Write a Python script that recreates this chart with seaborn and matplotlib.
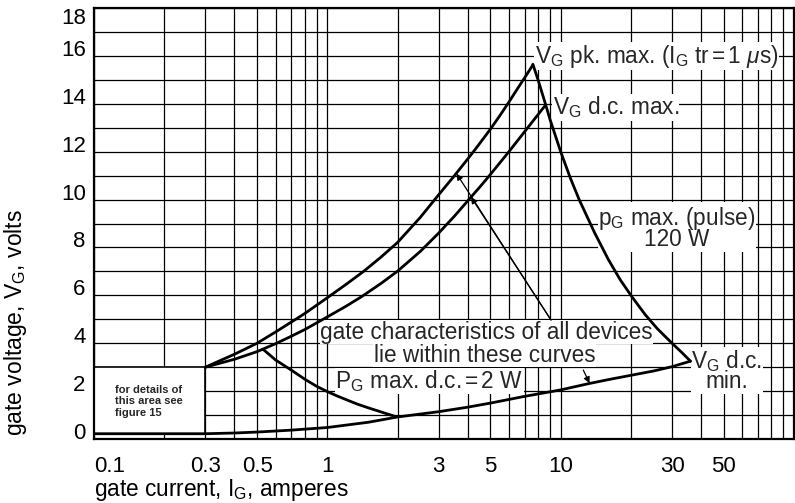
import numpy as np
import pandas as pd
import matplotlib
matplotlib.use("Agg")
import matplotlib.pyplot as plt
import seaborn as sns
from matplotlib.ticker import FixedLocator, LogLocator, MultipleLocator, NullFormatter
from matplotlib.patches import Rectangle

# ---------------- data ----------------
I_pk = [0.3, 0.4, 0.5, 0.6, 0.7, 0.8, 1.0, 1.2, 1.43, 1.7, 2.0, 2.5, 3.0, 3.5,
        4.0, 4.33, 5.0, 5.5, 6.0, 6.5, 7.0, 7.6]
V_pk = [3.0, 3.54, 4.0, 4.47, 4.88, 5.24, 5.9, 6.45, 7.0, 7.6, 8.21, 9.25, 10.2, 10.99,
        11.7, 12.13, 12.94, 13.52, 14.07, 14.6, 15.08, 15.62]

I_dcmax = [0.3, 0.4, 0.5, 0.6, 0.7, 0.8, 1.0, 1.2, 1.41, 1.7, 2.0, 2.5, 3.0, 3.5,
           4.0, 4.5, 5.0, 6.0, 7.0, 8.0, 8.6]
V_dcmax = [3.0, 3.33, 3.65, 3.98, 4.29, 4.57, 5.1, 5.54, 5.96, 6.5, 7.01, 7.83, 8.6, 9.3,
           9.95, 10.52, 11.05, 12.0, 12.83, 13.55, 13.94]

I_pulse = [7.6, 8.0, 8.6, 9.0, 10, 11, 12, 14, 16, 18, 20, 23, 26, 30, 33, 36]
V_pulse = [15.65, 15.0, 14.0, 13.35, 12.0, 10.9, 10.0, 8.6, 7.5, 6.65, 6.0, 5.2, 4.6,
           4.0, 3.62, 3.25]

I_dcmin = [0.1, 0.2, 0.3, 0.4, 0.5, 0.7, 1.0, 1.5, 2.0, 3.0, 4.0, 5.0, 7.0, 10, 13,
           16, 20, 25, 30, 36]
V_dcmin = [0.22, 0.22, 0.22, 0.25, 0.29, 0.37, 0.48, 0.7, 0.92, 1.14, 1.33, 1.5, 1.78,
           2.05, 2.3, 2.48, 2.66, 2.84, 3.02, 3.25]

I_2w = [0.53, 0.6, 0.7, 0.8, 0.9, 1.0, 1.1, 1.2, 1.35, 1.5, 1.7, 1.97]
V_2w = [3.75, 3.3, 2.88, 2.5, 2.2, 1.98, 1.8, 1.65, 1.45, 1.3, 1.13, 0.93]

x_ticks = [0.1, 0.3, 0.5, 1, 3, 5, 10, 30, 50]
x_tick_labels = ["0.1", "0.3", "0.5", "1", "3", "5", "10", "30", "50"]
y_ticks = [0, 2, 4, 6, 8, 10, 12, 14, 16, 18]
y_tick_labels = ["0", "2", "4", "6", "8", "10", "12", "14", "16", "18"]

curves = {
    "pk max": (I_pk, V_pk),
    "dc max": (I_dcmax, V_dcmax),
    "pulse": (I_pulse, V_pulse),
    "dc min": (I_dcmin, V_dcmin),
    "2 W": (I_2w, V_2w),
}
df = pd.concat(
    [pd.DataFrame({"I": i, "V": v, "curve": name}) for name, (i, v) in curves.items()],
    ignore_index=True,
)

# ---------------- style ----------------
sns.set_theme(style="white")
plt.rcParams["font.family"] = ["Liberation Sans", "DejaVu Sans"]
plt.rcParams["mathtext.fontset"] = "custom"
plt.rcParams["mathtext.rm"] = "Liberation Sans"
plt.rcParams["mathtext.it"] = "Liberation Sans:italic"
plt.rcParams["mathtext.bf"] = "Liberation Sans:bold"
FS = 16.3

fig = plt.figure(figsize=(7.95, 5.03), dpi=100)
ax = fig.add_axes([94 / 795, 64 / 503, 700 / 795, 431 / 503])

sns.lineplot(data=df, x="I", y="V", units="curve", estimator=None, sort=False,
             color="black", lw=2.0, ax=ax, zorder=5)

ax.set_xscale("log")
ax.set_xlim(0.1, 100)
ax.set_ylim(0, 18)

ax.xaxis.set_major_locator(FixedLocator(x_ticks))
ax.set_xticklabels(x_tick_labels)
ax.xaxis.set_minor_locator(LogLocator(base=10, subs=np.arange(1, 10), numticks=100))
ax.xaxis.set_minor_formatter(NullFormatter())
ax.yaxis.set_major_locator(FixedLocator(y_ticks))
ax.set_yticklabels(y_tick_labels)
ax.yaxis.set_minor_locator(MultipleLocator(1))

ax.grid(True, which="both", color="black", lw=0.9)
ax.set_axisbelow(True)
ax.tick_params(which="minor", length=0)
ax.tick_params(which="major", length=3, width=1, color="black", direction="out",
               labelsize=16, labelcolor="black")
ax.tick_params(axis="x", pad=9)
ax.tick_params(axis="y", pad=3)
for s in ax.spines.values():
    s.set_color("black")
    s.set_linewidth(1.6)

for lab in ax.get_yticklabels():
    lab.set_verticalalignment("baseline")
ax.get_yticklabels()[-1].set_verticalalignment("top")
ax.get_xticklabels()[0].set_horizontalalignment("left")

ax.set_xlabel(r"gate current, $\mathregular{I_G}$, amperes", fontsize=FS, color="black")
ax.xaxis.set_label_coords(0.0, -0.132)
ax.xaxis.label.set_horizontalalignment("left")
ax.xaxis.label.set_verticalalignment("baseline")
ax.set_ylabel(r"gate voltage, $\mathregular{V_G}$, volts", fontsize=16.5, color="black")
ax.yaxis.set_label_coords(-0.093, 0.27)

# box in the lower-left corner
ax.add_patch(Rectangle((0.1, 0.22), 0.2, 2.78, facecolor="white", edgecolor="black",
                       lw=1.2, zorder=2.5))
ax.text(0.123, 1.58, "for details of\nthis area see\nfigure 15", fontsize=8,
        fontweight="bold", ha="left", va="center", linespacing=1.2, zorder=4)

wb = dict(facecolor="white", edgecolor="none", pad=0.3)
ax.text(7.73, 15.72, r"$\mathregular{V_G}$ pk. max. ($\mathregular{I_G}$ tr$\,$=$\,$1 $\mu$s)",
        fontsize=FS, ha="left", va="baseline", bbox=wb, zorder=4)
ax.text(9.24, 13.55, r"$\mathregular{V_G}$ d.c. max.", fontsize=FS, ha="left",
        va="baseline", bbox=wb, zorder=4)
ax.text(14.5, 8.05, "$\\mathregular{p_G}$ max. (pulse)\n120 W", fontsize=FS, ha="left",
        va="baseline", multialignment="center", linespacing=0.8, bbox=wb, zorder=4)
ax.text(4.81, 4.18, "gate characteristics of all devices", fontsize=FS, ha="center",
        va="baseline", bbox=wb, zorder=4)
ax.text(4.71, 3.22, "lie within these curves", fontsize=FS, ha="center",
        va="baseline", bbox=wb, zorder=4)
ax.text(1.08, 2.13, r"$\mathregular{P_G}$ max. d.c.$\,$=$\,$2 W", fontsize=FS, ha="left",
        va="baseline", bbox=wb, zorder=4)
ax.text(36.3, 2.12, "$\\mathregular{V_G}$ d.c.\nmin.", fontsize=FS, ha="left",
        va="baseline", multialignment="center", linespacing=0.8, bbox=wb, zorder=4)

arw = dict(arrowstyle="-|>", lw=0.9, color="black", mutation_scale=9,
           shrinkA=0, shrinkB=0)
ax.annotate("", xy=(3.58, 11.08), xytext=(9.09, 4.97), arrowprops=arw, zorder=6)
ax.annotate("", xy=(4.13, 10.1), xytext=(9.09, 4.97), arrowprops=arw, zorder=6)
ax.annotate("", xy=(13.3, 2.33), xytext=(12.5, 2.88), arrowprops=arw, zorder=6)

fig.savefig("out.png", dpi=100)
